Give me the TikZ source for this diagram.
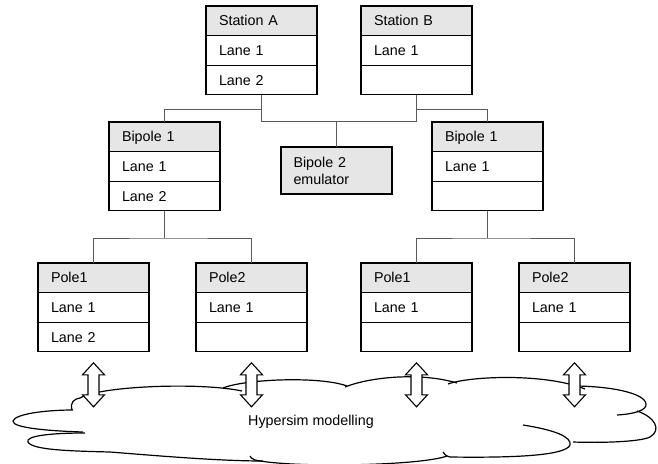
\documentclass[tikz,border=0pt]{standalone}
\usepackage{fontspec}
\setmainfont{Liberation Sans}
\definecolor{hdrgray}{HTML}{E6E6E6}
\definecolor{linegray}{HTML}{5A5A5A}
\begin{document}
\begin{tikzpicture}[x=1pt,y=-1pt,
  box/.style={draw=black, line width=1.2pt, outer sep=0pt, minimum width=111pt, minimum height=29.6pt,
    text width=85pt, inner xsep=13pt, inner ysep=0pt, align=left,
    text height=10.3pt, text depth=0pt, font=\fontsize{14.3}{17}\selectfont, anchor=north west},
  hdr/.style={box, fill=hdrgray},
  lane/.style={box, fill=white},
  emu/.style={draw=black, line width=1.2pt, outer sep=0pt, fill=hdrgray, minimum width=111pt, minimum height=47pt,
    text width=86pt, inner xsep=12.5pt, inner ysep=0pt, align=left,
    font=\fontsize{14.3}{17}\selectfont, anchor=north west},
  conn/.style={draw=linegray, line width=0.9pt},
  cloudline/.style={draw=black, line width=1.2pt},
  arrowline/.style={draw=black, line width=1.1pt, fill=white, line join=miter},
  darrow/.pic={\draw[arrowline] (0,-22) -- (11,-10) -- (5.5,-10) -- (5.5,10) -- (11,10) -- (0,22)
     -- (-11,10) -- (-5.5,10) -- (-5.5,-10) -- (-11,-10) -- cycle;}
]
\useasboundingbox (0,0) rectangle (658,463);
\newcommand{\mybox}[6]{%
  \node[hdr] (#1) at (#2,#3) {#4};
  \node[lane] (#1-1) at (#1.south west) {#5};
  \node[lane] (#1-2) at (#1-1.south west) {#6};}

% boxes
\mybox{sa}{206}{6}{Station A}{Lane 1}{Lane 2}
\mybox{sb}{361}{6}{Station B}{Lane 1}{}
\mybox{bl}{109}{122}{Bipole 1}{Lane 1}{Lane 2}
\mybox{br}{432}{122}{Bipole 1}{Lane 1}{}
\mybox{pa}{38}{263}{Pole1}{Lane 1}{Lane 2}
\mybox{pb}{196}{263}{Pole2}{Lane 1}{}
\mybox{pc}{361}{263}{Pole1}{Lane 1}{}
\mybox{pd}{519}{263}{Pole2}{Lane 1}{}
\node[emu] (em) at (281,147) {Bipole 2\\emulator};

% connectors
\coordinate (busy) at (0,121);
\coordinate (bry) at (0,109);
\coordinate (lowy) at (0,238);
\draw[conn] (sa-2.south) -- (sa-2.south |- busy) -- (sb-2.south |- busy) -- (sb-2.south);
\draw[conn] (sa-2.south |- bry) -| (bl.north);
\draw[conn] (sb-2.south |- bry) -| (br.north);
\draw[conn] (em.north |- busy) -- (em.north);
\draw[conn] (bl-2.south) -- (bl-2.south |- lowy);
\draw[conn] (pa.north) |- (bl-2.south |- lowy) -| (pb.north);
\draw[conn] (br-2.south) -- (br-2.south |- lowy);
\draw[conn] (pc.north) |- (br-2.south |- lowy) -| (pd.north);

% cloud
\draw[cloudline] (72,410) .. controls (70,402) and (74,399) .. (80,398)
   .. controls (100,386) and (200,382) .. (242,391);
\draw[cloudline] (223,388) .. controls (245,379) and (320,376) .. (347,386);
\draw[cloudline] (345,387) .. controls (370,377) and (420,372) .. (457,383);
\draw[cloudline] (448,384) .. controls (470,376) and (545,373) .. (585,389);
\draw[cloudline] (573,386) .. controls (610,386) and (645,393) .. (646,404)
   .. controls (647,410) and (635,414) .. (617,415);
\draw[cloudline] (637,411) .. controls (655,417) and (662,430) .. (650,437)
   .. controls (640,442) and (600,443) .. (573,442);
\draw[cloudline] (523,425) .. controls (555,430) and (572,437) .. (570,445)
   .. controls (566,455) and (520,458) .. (450,457)
   .. controls (446,456) and (444,454) .. (443,452);
\draw[cloudline] (447,456) .. controls (420,466) and (290,468) .. (255,460)
   .. controls (252,459) and (250,457) .. (250,456);
\draw[cloudline] (85,433) .. controls (50,433) and (25,436) .. (28,442)
   .. controls (32,450) and (70,451) .. (110,452)
   .. controls (160,456) and (220,461) .. (263,461);
\draw[cloudline] (73,410) .. controls (45,410) and (15,414) .. (13,421)
   .. controls (12,428) and (50,431) .. (83,432);
\node[font=\fontsize{14.3}{17}\selectfont, anchor=base west, inner sep=0pt] (hm) at (248,425.5) {Hypersim modelling};

% arrows
\pic (aa) at ([yshift=-33pt]pa-2.south) {darrow};
\pic (ab) at ([yshift=-33pt]pb-2.south) {darrow};
\pic (ac) at ([yshift=-33pt]pc-2.south) {darrow};
\pic (ad) at ([yshift=-33pt]pd-2.south) {darrow};
\end{tikzpicture}
\end{document}
